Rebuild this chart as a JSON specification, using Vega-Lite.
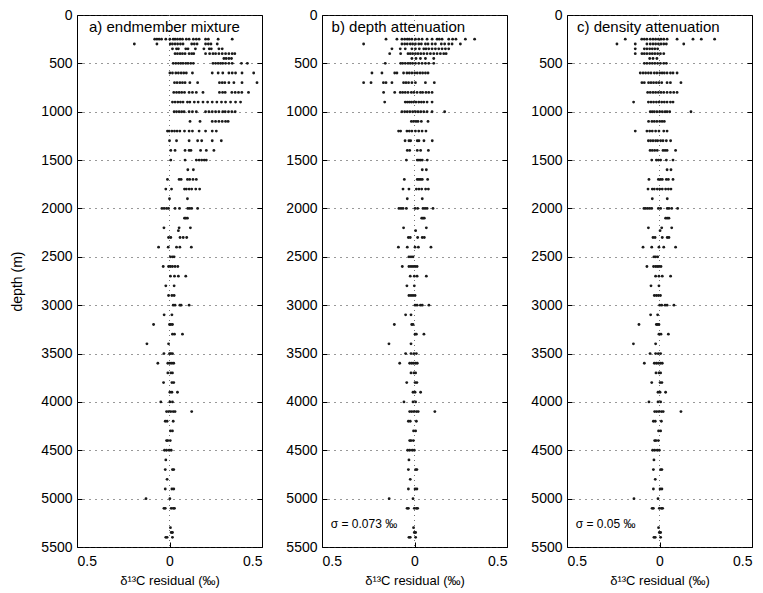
{
"$schema": "https://vega.github.io/schema/vega-lite/v6.json",
"padding": {"left": 10, "top": 7, "right": 5, "bottom": 5},
"bounds": "flush",
"spacing": 60,
"config": {
  "font": "Liberation Sans",
  "view": {"stroke": "#000", "strokeWidth": 1},
  "axis": {"labelFont": "Liberation Sans", "labelFontSize": 14, "labelColor": "#000", "titleFont": "Liberation Sans", "titleFontSize": 14, "titleFontWeight": "normal", "titleColor": "#000", "domain": false, "tickColor": "#000", "tickSize": -5}
},
"datasets": {
"a": [
{"d":250,"r":-0.08},{"d":250,"r":-0.068},{"d":250,"r":-0.056},{"d":250,"r":-0.043},{"d":250,"r":-0.02},{"d":250,"r":0.002},{"d":250,"r":0.02},{"d":250,"r":0.03},{"d":250,"r":0.043},{"d":250,"r":0.057},{"d":250,"r":0.07},{"d":250,"r":0.091},{"d":250,"r":0.106},{"d":250,"r":0.129},{"d":250,"r":0.145},{"d":250,"r":0.16},{"d":250,"r":0.195},{"d":250,"r":0.21},{"d":250,"r":0.263},{"d":250,"r":0.339},
{"d":300,"r":-0.19},{"d":300,"r":-0.068},{"d":300,"r":0.004},{"d":300,"r":0.016},{"d":300,"r":0.03},{"d":300,"r":0.044},{"d":300,"r":0.059},{"d":300,"r":0.073},{"d":300,"r":0.12},{"d":300,"r":0.134},{"d":300,"r":0.149},{"d":300,"r":0.195},{"d":300,"r":0.21},{"d":300,"r":0.224},{"d":300,"r":0.258},
{"d":350,"r":0.016},{"d":350,"r":0.038},{"d":350,"r":0.048},{"d":350,"r":0.088},{"d":350,"r":0.1},{"d":350,"r":0.14},{"d":350,"r":0.186},{"d":350,"r":0.215},{"d":350,"r":0.226},{"d":350,"r":0.267},{"d":350,"r":0.285},
{"d":400,"r":0.03},{"d":400,"r":0.043},{"d":400,"r":0.057},{"d":400,"r":0.07},{"d":400,"r":0.084},{"d":400,"r":0.106},{"d":400,"r":0.12},{"d":400,"r":0.131},{"d":400,"r":0.195},{"d":400,"r":0.217},{"d":400,"r":0.235},{"d":400,"r":0.249},{"d":400,"r":0.267},{"d":400,"r":0.285},{"d":400,"r":0.303},{"d":400,"r":0.321},{"d":400,"r":0.339},{"d":400,"r":0.353},
{"d":450,"r":0.294},{"d":450,"r":0.306},{"d":450,"r":0.321},{"d":450,"r":0.335},
{"d":500,"r":0.02},{"d":500,"r":0.034},{"d":500,"r":0.048},{"d":500,"r":0.061},{"d":500,"r":0.073},{"d":500,"r":0.088},{"d":500,"r":0.1},{"d":500,"r":0.115},{"d":500,"r":0.129},{"d":500,"r":0.235},{"d":500,"r":0.249},{"d":500,"r":0.263},{"d":500,"r":0.276},{"d":500,"r":0.288},{"d":500,"r":0.303},{"d":500,"r":0.321},{"d":500,"r":0.339},{"d":500,"r":0.389},{"d":500,"r":0.421},
{"d":600,"r":0.002},{"d":600,"r":0.016},{"d":600,"r":0.034},{"d":600,"r":0.048},{"d":600,"r":0.063},{"d":600,"r":0.077},{"d":600,"r":0.091},{"d":600,"r":0.124},{"d":600,"r":0.231},{"d":600,"r":0.263},{"d":600,"r":0.288},{"d":600,"r":0.321},{"d":600,"r":0.339},{"d":600,"r":0.357},{"d":600,"r":0.392},{"d":600,"r":0.455},
{"d":700,"r":0.027},{"d":700,"r":0.041},{"d":700,"r":0.056},{"d":700,"r":0.07},{"d":700,"r":0.084},{"d":700,"r":0.11},{"d":700,"r":0.152},{"d":700,"r":0.27},{"d":700,"r":0.285},{"d":700,"r":0.299},{"d":700,"r":0.321},{"d":700,"r":0.348},{"d":700,"r":0.392},{"d":700,"r":0.473},
{"d":800,"r":0.023},{"d":800,"r":0.038},{"d":800,"r":0.052},{"d":800,"r":0.066},{"d":800,"r":0.081},{"d":800,"r":0.106},{"d":800,"r":0.124},{"d":800,"r":0.145},{"d":800,"r":0.181},{"d":800,"r":0.27},{"d":800,"r":0.287},{"d":800,"r":0.301},{"d":800,"r":0.337},{"d":800,"r":0.355},{"d":800,"r":0.373},{"d":800,"r":0.391},{"d":800,"r":0.427},
{"d":900,"r":0.016},{"d":900,"r":0.03},{"d":900,"r":0.045},{"d":900,"r":0.059},{"d":900,"r":0.073},{"d":900,"r":0.097},{"d":900,"r":0.11},{"d":900,"r":0.134},{"d":900,"r":0.155},{"d":900,"r":0.181},{"d":900,"r":0.206},{"d":900,"r":0.231},{"d":900,"r":0.256},{"d":900,"r":0.281},{"d":900,"r":0.303},{"d":900,"r":0.33},{"d":900,"r":0.357},{"d":900,"r":0.384},
{"d":1000,"r":0.025},{"d":1000,"r":0.038},{"d":1000,"r":0.052},{"d":1000,"r":0.066},{"d":1000,"r":0.079},{"d":1000,"r":0.106},{"d":1000,"r":0.124},{"d":1000,"r":0.145},{"d":1000,"r":0.195},{"d":1000,"r":0.213},{"d":1000,"r":0.231},{"d":1000,"r":0.249},{"d":1000,"r":0.267},{"d":1000,"r":0.288},{"d":1000,"r":0.301},{"d":1000,"r":0.319},{"d":1000,"r":0.337},{"d":1000,"r":0.355},
{"d":1100,"r":0.111},{"d":1100,"r":0.165},{"d":1100,"r":0.231},{"d":1100,"r":0.249},{"d":1100,"r":0.267},{"d":1100,"r":0.285},{"d":1100,"r":0.303},{"d":1100,"r":0.317},
{"d":1200,"r":-0.011},{"d":1200,"r":-0.002},{"d":1200,"r":0.013},{"d":1200,"r":0.027},{"d":1200,"r":0.041},{"d":1200,"r":0.056},{"d":1200,"r":0.081},{"d":1200,"r":0.106},{"d":1200,"r":0.124},{"d":1200,"r":0.16},{"d":1200,"r":0.195},{"d":1200,"r":0.231},{"d":1200,"r":0.253},
{"d":1300,"r":0},{"d":1300,"r":0.038},{"d":1300,"r":0.106},{"d":1300,"r":0.152},{"d":1300,"r":0.174},{"d":1300,"r":0.231},{"d":1300,"r":0.28},
{"d":1400,"r":0.007},{"d":1400,"r":0.03},{"d":1400,"r":0.084},{"d":1400,"r":0.106},{"d":1400,"r":0.116},{"d":1400,"r":0.168},{"d":1400,"r":0.199},{"d":1400,"r":0.24},
{"d":1500,"r":0.007},{"d":1500,"r":0.084},{"d":1500,"r":0.145},{"d":1500,"r":0.16},{"d":1500,"r":0.174},{"d":1500,"r":0.188},{"d":1500,"r":0.199},
{"d":1600,"r":0.099},{"d":1600,"r":0.129},
{"d":1700,"r":-0.011},{"d":1700,"r":0.052},{"d":1700,"r":0.063},{"d":1700,"r":0.097},{"d":1700,"r":0.109},{"d":1700,"r":0.127},{"d":1700,"r":0.145},
{"d":1800,"r":-0.02},{"d":1800,"r":0.011},{"d":1800,"r":0.081},{"d":1800,"r":0.091},{"d":1800,"r":0.106},{"d":1800,"r":0.12},{"d":1800,"r":0.142},{"d":1800,"r":0.163},
{"d":1900,"r":0},{"d":1900,"r":0.097},
{"d":2000,"r":-0.041},{"d":2000,"r":-0.029},{"d":2000,"r":-0.016},{"d":2000,"r":-0.005},{"d":2000,"r":0.03},{"d":2000,"r":0.054},{"d":2000,"r":0.099},{"d":2000,"r":0.109},{"d":2000,"r":0.12},{"d":2000,"r":0.152},
{"d":2100,"r":0.081},{"d":2100,"r":0.088},{"d":2100,"r":0.097},
{"d":2200,"r":-0.03},{"d":2200,"r":0.052},{"d":2230,"r":0.048},{"d":2200,"r":0.113},
{"d":2300,"r":-0.005},{"d":2300,"r":0.007},{"d":2300,"r":0.057},{"d":2300,"r":0.074},{"d":2300,"r":0.093},
{"d":2400,"r":-0.059},{"d":2400,"r":-0.007},{"d":2400,"r":0.038},{"d":2400,"r":0.056},{"d":2400,"r":0.118},
{"d":2500,"r":0.005},{"d":2500,"r":0.016},{"d":2500,"r":0.025},
{"d":2600,"r":-0.034},{"d":2600,"r":-0.005},{"d":2600,"r":0.005},{"d":2600,"r":0.016},{"d":2600,"r":0.03},{"d":2600,"r":0.045},
{"d":2700,"r":0.005},{"d":2700,"r":0.027},{"d":2700,"r":0.048},{"d":2700,"r":0.088},
{"d":2800,"r":-0.02},{"d":2800,"r":0.025},
{"d":2900,"r":-0.005},{"d":2900,"r":0.013},{"d":2900,"r":0.025},
{"d":3000,"r":0.02},{"d":3000,"r":0.03},{"d":3000,"r":0.056},{"d":3000,"r":0.063},{"d":3000,"r":0.106},
{"d":3100,"r":-0.029},{"d":3100,"r":0.013},
{"d":3200,"r":-0.086},{"d":3200,"r":0},{"d":3200,"r":0.007},{"d":3200,"r":0.016},
{"d":3300,"r":0.016},{"d":3300,"r":0.027},{"d":3300,"r":0.07},
{"d":3400,"r":-0.122},{"d":3400,"r":-0.005},
{"d":3500,"r":-0.03},{"d":3500,"r":0},{"d":3500,"r":0.007},{"d":3500,"r":0.016},
{"d":3600,"r":-0.063},{"d":3600,"r":-0.009},{"d":3600,"r":0.002},{"d":3600,"r":0.013},{"d":3600,"r":0.023},
{"d":3700,"r":-0.009},{"d":3700,"r":0.007},{"d":3700,"r":0.016},
{"d":3800,"r":-0.032},{"d":3800,"r":0.013},{"d":3800,"r":0.023},
{"d":3900,"r":0.002},{"d":3900,"r":0.013},{"d":3900,"r":0.043},
{"d":4000,"r":-0.047},{"d":4000,"r":0.002},{"d":4000,"r":0.016},
{"d":4100,"r":-0.016},{"d":4100,"r":-0.005},{"d":4100,"r":0.007},{"d":4100,"r":0.02},{"d":4100,"r":0.03},{"d":4100,"r":0.12},
{"d":4200,"r":-0.023},{"d":4200,"r":-0.013},{"d":4200,"r":0.02},
{"d":4300,"r":0.005},{"d":4300,"r":0.016},
{"d":4400,"r":-0.016},{"d":4400,"r":-0.009},{"d":4400,"r":0.004},
{"d":4500,"r":-0.027},{"d":4500,"r":-0.016},{"d":4500,"r":-0.002},{"d":4500,"r":0.009},
{"d":4600,"r":-0.02},
{"d":4700,"r":-0.023},{"d":4700,"r":0.016},{"d":4700,"r":0.023},
{"d":4800,"r":-0.013},
{"d":4900,"r":-0.023},{"d":4900,"r":0.013},{"d":4900,"r":0.023},
{"d":5000,"r":-0.127},{"d":5000,"r":0.002},
{"d":5100,"r":-0.03},{"d":5100,"r":-0.023},{"d":5100,"r":0.009},{"d":5100,"r":0.02},{"d":5100,"r":0.027},
{"d":5300,"r":0.005},
{"d":5350,"r":0.009},{"d":5350,"r":0.016},
{"d":5400,"r":-0.02},{"d":5400,"r":-0.013},{"d":5400,"r":0.016}
],
"b": [
{"d":250,"r":-0.154},{"d":250,"r":-0.095},{"d":250,"r":-0.068},{"d":250,"r":-0.053},{"d":250,"r":-0.039},{"d":250,"r":-0.028},{"d":250,"r":-0.014},{"d":250,"r":0.005},{"d":250,"r":0.023},{"d":250,"r":0.041},{"d":250,"r":0.068},{"d":250,"r":0.095},{"d":250,"r":0.122},{"d":250,"r":0.134},{"d":250,"r":0.149},{"d":250,"r":0.185},{"d":250,"r":0.206},{"d":250,"r":0.224},{"d":250,"r":0.275},{"d":250,"r":0.325},
{"d":300,"r":-0.275},{"d":300,"r":-0.068},{"d":300,"r":-0.053},{"d":300,"r":-0.039},{"d":300,"r":-0.023},{"d":300,"r":-0.01},{"d":300,"r":0.005},{"d":300,"r":0.023},{"d":300,"r":0.037},{"d":300,"r":0.059},{"d":300,"r":0.073},{"d":300,"r":0.095},{"d":300,"r":0.113},{"d":300,"r":0.145},{"d":300,"r":0.163},{"d":300,"r":0.185},{"d":300,"r":0.203},{"d":300,"r":0.248},
{"d":350,"r":-0.122},{"d":350,"r":-0.077},{"d":350,"r":-0.05},{"d":350,"r":-0.014},{"d":350,"r":0.005},{"d":350,"r":0.026},{"d":350,"r":0.05},{"d":350,"r":0.062},{"d":350,"r":0.077},{"d":350,"r":0.095},{"d":350,"r":0.113},{"d":350,"r":0.131},{"d":350,"r":0.149},{"d":350,"r":0.167},{"d":350,"r":0.185},
{"d":400,"r":-0.134},{"d":400,"r":-0.075},{"d":400,"r":-0.035},{"d":400,"r":-0.023},{"d":400,"r":-0.01},{"d":400,"r":0.005},{"d":400,"r":0.019},{"d":400,"r":0.034},{"d":400,"r":0.05},{"d":400,"r":0.068},{"d":400,"r":0.086},{"d":400,"r":0.104},{"d":400,"r":0.122},{"d":400,"r":0.14},{"d":400,"r":0.158},{"d":400,"r":0.171},
{"d":450,"r":-0.014},{"d":450,"r":0.008},{"d":450,"r":0.032},{"d":450,"r":0.059},{"d":450,"r":0.104},
{"d":500,"r":-0.158},{"d":500,"r":-0.075},{"d":500,"r":-0.064},{"d":500,"r":-0.05},{"d":500,"r":-0.035},{"d":500,"r":-0.023},{"d":500,"r":-0.01},{"d":500,"r":0.005},{"d":500,"r":0.023},{"d":500,"r":0.041},{"d":500,"r":0.059},{"d":500,"r":0.077},{"d":500,"r":0.104},
{"d":600,"r":-0.23},{"d":600,"r":-0.176},{"d":600,"r":-0.107},{"d":600,"r":-0.095},{"d":600,"r":-0.059},{"d":600,"r":-0.041},{"d":600,"r":-0.028},{"d":600,"r":-0.014},{"d":600,"r":0.001},{"d":600,"r":0.015},{"d":600,"r":0.03},{"d":600,"r":0.044},{"d":600,"r":0.059},{"d":600,"r":0.073},
{"d":700,"r":-0.275},{"d":700,"r":-0.235},{"d":700,"r":-0.168},{"d":700,"r":-0.154},{"d":700,"r":-0.122},{"d":700,"r":-0.059},{"d":700,"r":-0.046},{"d":700,"r":-0.032},{"d":700,"r":-0.014},{"d":700,"r":0.005},{"d":700,"r":0.059},{"d":700,"r":0.107},
{"d":800,"r":-0.167},{"d":800,"r":-0.107},{"d":800,"r":-0.077},{"d":800,"r":-0.064},{"d":800,"r":-0.05},{"d":800,"r":-0.035},{"d":800,"r":-0.017},{"d":800,"r":-0.003},{"d":800,"r":0.014},{"d":800,"r":0.032},{"d":800,"r":0.044},{"d":800,"r":0.062},{"d":800,"r":0.077},{"d":800,"r":0.095},
{"d":900,"r":-0.161},{"d":900,"r":-0.05},{"d":900,"r":-0.039},{"d":900,"r":-0.028},{"d":900,"r":-0.017},{"d":900,"r":-0.005},{"d":900,"r":0.008},{"d":900,"r":0.023},{"d":900,"r":0.037},{"d":900,"r":0.05},{"d":900,"r":0.068},{"d":900,"r":0.095},
{"d":1000,"r":-0.068},{"d":1000,"r":-0.053},{"d":1000,"r":-0.039},{"d":1000,"r":-0.025},{"d":1000,"r":-0.01},{"d":1000,"r":0.005},{"d":1000,"r":0.019},{"d":1000,"r":0.034},{"d":1000,"r":0.05},{"d":1000,"r":0.068},{"d":1000,"r":0.095},{"d":1000,"r":0.163},
{"d":1100,"r":-0.017},{"d":1100,"r":-0.005},{"d":1100,"r":0.008},{"d":1100,"r":0.019},{"d":1100,"r":0.037},{"d":1100,"r":0.073},
{"d":1200,"r":-0.086},{"d":1200,"r":-0.075},{"d":1200,"r":-0.041},{"d":1200,"r":-0.028},{"d":1200,"r":-0.014},{"d":1200,"r":0.005},{"d":1200,"r":0.023},{"d":1200,"r":0.041},{"d":1200,"r":0.062},
{"d":1300,"r":-0.051},{"d":1300,"r":-0.03},{"d":1300,"r":-0.021},{"d":1300,"r":0.015},{"d":1300,"r":0.024},{"d":1300,"r":0.051},{"d":1300,"r":0.096},
{"d":1400,"r":-0.039},{"d":1400,"r":-0.026},{"d":1400,"r":0.015},{"d":1400,"r":0.033},{"d":1400,"r":0.075},
{"d":1500,"r":-0.044},{"d":1500,"r":0.015},{"d":1500,"r":0.024},{"d":1500,"r":0.033},{"d":1500,"r":0.042},{"d":1500,"r":0.069},
{"d":1600,"r":0.042},{"d":1600,"r":0.064},
{"d":1700,"r":-0.055},{"d":1700,"r":0.015},{"d":1700,"r":0.024},{"d":1700,"r":0.033},{"d":1700,"r":0.042},{"d":1700,"r":0.071},
{"d":1800,"r":-0.062},{"d":1800,"r":-0.03},{"d":1800,"r":0.01},{"d":1800,"r":0.024},{"d":1800,"r":0.039},{"d":1800,"r":0.06},{"d":1800,"r":0.075},
{"d":1900,"r":-0.039},{"d":1900,"r":0.042},
{"d":2000,"r":-0.084},{"d":2000,"r":-0.073},{"d":2000,"r":-0.062},{"d":2000,"r":-0.044},{"d":2000,"r":0.003},{"d":2000,"r":0.017},{"d":2000,"r":0.046},{"d":2000,"r":0.057},{"d":2000,"r":0.068},{"d":2000,"r":0.1},
{"d":2100,"r":0.039},{"d":2100,"r":0.046},{"d":2100,"r":0.053},
{"d":2200,"r":-0.059},{"d":2230,"r":0.006},{"d":2200,"r":0.064},
{"d":2300,"r":-0.033},{"d":2300,"r":-0.023},{"d":2300,"r":0.017},{"d":2300,"r":0.042},{"d":2300,"r":0.053},
{"d":2400,"r":-0.087},{"d":2400,"r":-0.039},{"d":2400,"r":0.003},{"d":2400,"r":0.021},{"d":2400,"r":0.089},
{"d":2500,"r":-0.03},{"d":2500,"r":-0.019},{"d":2500,"r":-0.008},
{"d":2600,"r":-0.066},{"d":2600,"r":-0.03},{"d":2600,"r":-0.019},{"d":2600,"r":-0.008},{"d":2600,"r":0.003},{"d":2600,"r":0.014},
{"d":2700,"r":-0.023},{"d":2700,"r":-0.001},{"d":2700,"r":0.014},{"d":2700,"r":0.064},
{"d":2800,"r":-0.041},{"d":2800,"r":-0.001},
{"d":2900,"r":-0.03},{"d":2900,"r":-0.019},{"d":2900,"r":-0.008},{"d":2900,"r":0.003},
{"d":3000,"r":0.003},{"d":3000,"r":0.014},{"d":3000,"r":0.032},{"d":3000,"r":0.042},{"d":3000,"r":0.078},
{"d":3100,"r":-0.048},{"d":3100,"r":-0.019},
{"d":3200,"r":-0.109},{"d":3200,"r":-0.015},{"d":3200,"r":-0.008},
{"d":3300,"r":0.003},{"d":3300,"r":0.01},{"d":3300,"r":0.051},
{"d":3400,"r":-0.138},{"d":3400,"r":-0.019},
{"d":3500,"r":-0.048},{"d":3500,"r":-0.019},{"d":3500,"r":-0.003},{"d":3500,"r":0.01},
{"d":3600,"r":-0.08},{"d":3600,"r":-0.026},{"d":3600,"r":-0.015},{"d":3600,"r":-0.005},{"d":3600,"r":0.006},{"d":3600,"r":0.015},
{"d":3700,"r":-0.019},{"d":3700,"r":-0.003},{"d":3700,"r":0.006},
{"d":3800,"r":-0.042},{"d":3800,"r":0.003},{"d":3800,"r":0.013},
{"d":3900,"r":-0.008},{"d":3900,"r":0.003},{"d":3900,"r":0.033},
{"d":4000,"r":-0.057},{"d":4000,"r":-0.008},{"d":4000,"r":0.006},
{"d":4100,"r":-0.026},{"d":4100,"r":-0.015},{"d":4100,"r":-0.003},{"d":4100,"r":0.01},{"d":4100,"r":0.02},{"d":4100,"r":0.11},
{"d":4200,"r":-0.033},{"d":4200,"r":-0.023},{"d":4200,"r":0.01},
{"d":4300,"r":-0.005},{"d":4300,"r":0.006},
{"d":4400,"r":-0.026},{"d":4400,"r":-0.019},{"d":4400,"r":-0.006},
{"d":4500,"r":-0.037},{"d":4500,"r":-0.026},{"d":4500,"r":-0.012},{"d":4500,"r":-0.001},
{"d":4600,"r":-0.03},
{"d":4700,"r":-0.033},{"d":4700,"r":0.006},{"d":4700,"r":0.013},
{"d":4800,"r":-0.023},
{"d":4900,"r":-0.033},{"d":4900,"r":0.003},{"d":4900,"r":0.013},
{"d":5000,"r":-0.137},{"d":5000,"r":-0.008},
{"d":5100,"r":-0.04},{"d":5100,"r":-0.033},{"d":5100,"r":-0.001},{"d":5100,"r":0.01},{"d":5100,"r":0.017},
{"d":5300,"r":-0.005},
{"d":5350,"r":-0.001},{"d":5350,"r":0.006},
{"d":5400,"r":-0.03},{"d":5400,"r":-0.023},{"d":5400,"r":0.006}
],
"c": [
{"d":250,"r":-0.185},{"d":250,"r":-0.096},{"d":250,"r":-0.082},{"d":250,"r":-0.068},{"d":250,"r":-0.05},{"d":250,"r":-0.035},{"d":250,"r":-0.021},{"d":250,"r":-0.006},{"d":250,"r":0.008},{"d":250,"r":0.023},{"d":250,"r":0.041},{"d":250,"r":0.095},{"d":250,"r":0.181},{"d":250,"r":0.226},{"d":250,"r":0.298},
{"d":300,"r":-0.23},{"d":300,"r":-0.131},{"d":300,"r":-0.068},{"d":300,"r":-0.05},{"d":300,"r":-0.035},{"d":300,"r":-0.021},{"d":300,"r":-0.006},{"d":300,"r":0.008},{"d":300,"r":0.023},{"d":300,"r":0.037},{"d":300,"r":0.131},
{"d":350,"r":-0.131},{"d":350,"r":-0.082},{"d":350,"r":-0.068},{"d":350,"r":-0.053},{"d":350,"r":-0.039},{"d":350,"r":-0.025},{"d":350,"r":-0.01},
{"d":400,"r":-0.131},{"d":400,"r":-0.095},{"d":400,"r":-0.082},{"d":400,"r":-0.068},{"d":400,"r":-0.053},{"d":400,"r":-0.039},{"d":400,"r":-0.025},{"d":400,"r":-0.01},{"d":400,"r":0.005},{"d":400,"r":0.023},
{"d":450,"r":-0.053},{"d":450,"r":-0.035},{"d":450,"r":-0.014},
{"d":500,"r":-0.082},{"d":500,"r":-0.068},{"d":500,"r":-0.053},{"d":500,"r":-0.039},{"d":500,"r":-0.025},{"d":500,"r":-0.01},{"d":500,"r":0.005},{"d":500,"r":0.023},{"d":500,"r":0.037},
{"d":600,"r":-0.104},{"d":600,"r":-0.089},{"d":600,"r":-0.075},{"d":600,"r":-0.06},{"d":600,"r":-0.046},{"d":600,"r":-0.028},{"d":600,"r":-0.014},{"d":600,"r":0.001},{"d":600,"r":0.014},{"d":600,"r":0.026},{"d":600,"r":0.041},{"d":600,"r":0.059},{"d":600,"r":0.073},{"d":600,"r":0.095},
{"d":700,"r":-0.095},{"d":700,"r":-0.082},{"d":700,"r":-0.059},{"d":700,"r":-0.046},{"d":700,"r":-0.032},{"d":700,"r":-0.017},{"d":700,"r":-0.003},{"d":700,"r":0.012},{"d":700,"r":0.041},{"d":700,"r":0.059},{"d":700,"r":0.116},
{"d":800,"r":-0.064},{"d":800,"r":-0.05},{"d":800,"r":-0.035},{"d":800,"r":-0.021},{"d":800,"r":-0.006},{"d":800,"r":0.008},{"d":800,"r":0.023},{"d":800,"r":0.041},{"d":800,"r":0.059},{"d":800,"r":0.077},{"d":800,"r":0.095},
{"d":900,"r":-0.14},{"d":900,"r":-0.06},{"d":900,"r":-0.046},{"d":900,"r":-0.032},{"d":900,"r":-0.017},{"d":900,"r":-0.003},{"d":900,"r":0.012},{"d":900,"r":0.026},{"d":900,"r":0.041},{"d":900,"r":0.059},{"d":900,"r":0.073},
{"d":1000,"r":-0.05},{"d":1000,"r":-0.039},{"d":1000,"r":-0.028},{"d":1000,"r":-0.014},{"d":1000,"r":0.001},{"d":1000,"r":0.015},{"d":1000,"r":0.03},{"d":1000,"r":0.041},{"d":1000,"r":0.055},{"d":1000,"r":0.17},
{"d":1100,"r":-0.059},{"d":1100,"r":-0.041},{"d":1100,"r":-0.028},{"d":1100,"r":-0.014},{"d":1100,"r":0.001},{"d":1100,"r":0.014},{"d":1100,"r":0.026},
{"d":1200,"r":-0.131},{"d":1200,"r":-0.068},{"d":1200,"r":-0.053},{"d":1200,"r":-0.039},{"d":1200,"r":-0.021},{"d":1200,"r":-0.003},{"d":1200,"r":0.023},{"d":1200,"r":0.041},
{"d":1300,"r":-0.06},{"d":1300,"r":-0.048},{"d":1300,"r":-0.035},{"d":1300,"r":-0.021},{"d":1300,"r":-0.01},{"d":1300,"r":0.006},{"d":1300,"r":0.019},{"d":1300,"r":0.037},{"d":1300,"r":0.06},
{"d":1400,"r":-0.051},{"d":1400,"r":-0.039},{"d":1400,"r":-0.026},{"d":1400,"r":-0.012},{"d":1400,"r":0.019},{"d":1400,"r":0.03},{"d":1400,"r":0.041},{"d":1400,"r":0.087},
{"d":1500,"r":-0.042},{"d":1500,"r":-0.017},{"d":1500,"r":-0.006},{"d":1500,"r":0.006},{"d":1500,"r":0.037},{"d":1500,"r":0.073},
{"d":1600,"r":0.041},{"d":1600,"r":0.062},
{"d":1700,"r":-0.057},{"d":1700,"r":-0.006},{"d":1700,"r":0.005},{"d":1700,"r":0.015},{"d":1700,"r":0.037},{"d":1700,"r":0.048},{"d":1700,"r":0.073},
{"d":1800,"r":-0.062},{"d":1800,"r":-0.039},{"d":1800,"r":-0.028},{"d":1800,"r":-0.012},{"d":1800,"r":0.001},{"d":1800,"r":0.015},{"d":1800,"r":0.033},{"d":1800,"r":0.048},{"d":1800,"r":0.062},
{"d":1900,"r":-0.039},{"d":1900,"r":0.042},
{"d":2000,"r":-0.084},{"d":2000,"r":-0.075},{"d":2000,"r":-0.064},{"d":2000,"r":-0.053},{"d":2000,"r":-0.042},{"d":2000,"r":-0.006},{"d":2000,"r":0.006},{"d":2000,"r":0.042},{"d":2000,"r":0.051},{"d":2000,"r":0.066},{"d":2000,"r":0.098},
{"d":2100,"r":0.033},{"d":2100,"r":0.042},{"d":2100,"r":0.051},
{"d":2200,"r":-0.06},{"d":2200,"r":0.012},{"d":2230,"r":0.003},{"d":2200,"r":0.066},
{"d":2300,"r":-0.035},{"d":2300,"r":-0.024},{"d":2300,"r":0.015},{"d":2300,"r":0.042},{"d":2300,"r":0.051},
{"d":2400,"r":-0.089},{"d":2400,"r":-0.042},{"d":2400,"r":-0.003},{"d":2400,"r":0.023},{"d":2400,"r":0.087},
{"d":2500,"r":-0.03},{"d":2500,"r":-0.021},{"d":2500,"r":-0.01},
{"d":2600,"r":-0.068},{"d":2600,"r":-0.032},{"d":2600,"r":-0.021},{"d":2600,"r":-0.012},{"d":2600,"r":-0.003},{"d":2600,"r":0.008},
{"d":2700,"r":-0.021},{"d":2700,"r":-0.003},{"d":2700,"r":0.015},{"d":2700,"r":0.06},
{"d":2800,"r":-0.046},{"d":2800,"r":-0.003},
{"d":2900,"r":-0.028},{"d":2900,"r":-0.017},{"d":2900,"r":-0.006},{"d":2900,"r":0.005},
{"d":3000,"r":0.001},{"d":3000,"r":0.012},{"d":3000,"r":0.03},{"d":3000,"r":0.041},{"d":3000,"r":0.078},
{"d":3100,"r":-0.048},{"d":3100,"r":-0.01},
{"d":3200,"r":-0.111},{"d":3200,"r":-0.017},{"d":3200,"r":-0.01},{"d":3200,"r":-0.003},
{"d":3300,"r":-0.003},{"d":3300,"r":0.008},{"d":3300,"r":0.048},
{"d":3400,"r":-0.141},{"d":3400,"r":-0.021},
{"d":3500,"r":-0.051},{"d":3500,"r":-0.021},{"d":3500,"r":-0.006},{"d":3500,"r":0.006},
{"d":3600,"r":-0.082},{"d":3600,"r":-0.028},{"d":3600,"r":-0.017},{"d":3600,"r":-0.006},{"d":3600,"r":0.005},{"d":3600,"r":0.015},
{"d":3700,"r":-0.019},{"d":3700,"r":-0.003},{"d":3700,"r":0.006},
{"d":3800,"r":-0.042},{"d":3800,"r":0.003},{"d":3800,"r":0.013},
{"d":3900,"r":-0.008},{"d":3900,"r":0.003},{"d":3900,"r":0.033},
{"d":4000,"r":-0.057},{"d":4000,"r":-0.008},{"d":4000,"r":0.006},
{"d":4100,"r":-0.026},{"d":4100,"r":-0.015},{"d":4100,"r":-0.003},{"d":4100,"r":0.01},{"d":4100,"r":0.02},{"d":4100,"r":0.116},
{"d":4200,"r":-0.033},{"d":4200,"r":-0.023},{"d":4200,"r":0.01},
{"d":4300,"r":-0.005},{"d":4300,"r":0.006},
{"d":4400,"r":-0.026},{"d":4400,"r":-0.019},{"d":4400,"r":-0.006},
{"d":4500,"r":-0.037},{"d":4500,"r":-0.026},{"d":4500,"r":-0.012},{"d":4500,"r":-0.001},
{"d":4600,"r":-0.03},
{"d":4700,"r":-0.033},{"d":4700,"r":0.006},{"d":4700,"r":0.013},
{"d":4800,"r":-0.023},
{"d":4900,"r":-0.033},{"d":4900,"r":0.003},{"d":4900,"r":0.013},
{"d":5000,"r":-0.138},{"d":5000,"r":-0.008},
{"d":5100,"r":-0.04},{"d":5100,"r":-0.033},{"d":5100,"r":-0.001},{"d":5100,"r":0.01},{"d":5100,"r":0.017},
{"d":5300,"r":-0.005},
{"d":5350,"r":-0.001},{"d":5350,"r":0.006},
{"d":5400,"r":-0.03},{"d":5400,"r":-0.023},{"d":5400,"r":0.006}
]
},
"hconcat": [
{
 "width": 185, "height": 532,
 "resolve": {"axis": {"y": "independent"}},
 "layer": [
  {"data": {"values": [{}]}, "mark": {"type": "rule", "strokeDash": [1, 4], "color": "#777", "strokeWidth": 1}, "encoding": {"x": {"datum": 0, "type": "quantitative"}}},
  {"data": {"name": "a"}, "mark": {"type": "circle", "size": 8, "color": "#1a1a1a", "opacity": 1},
   "encoding": {
    "x": {"field": "r", "type": "quantitative", "scale": {"domain": [-0.5, 0.5], "nice": false, "zero": false},
      "axis": {"orient": "bottom", "values": [-0.5, 0, 0.5], "labelExpr": "datum.value == 0 ? '0' : format(abs(datum.value), '.1f')", "grid": false, "labelPadding": 12, "title": "δ¹³C residual (‰)", "titleFontSize": 13, "titlePadding": 6}},
    "y": {"field": "d", "type": "quantitative", "scale": {"domain": [0, 5500], "reverse": true, "nice": false},
      "axis": {"orient": "left", "values": [0,500,1000,1500,2000,2500,3000,3500,4000,4500,5000,5500], "format": "d", "grid": true, "gridDash": [1, 5], "gridColor": "#333", "labelPadding": 10, "title": "depth (m)", "titlePadding": 16}}
   }},
  {"data": {"values": [{}]}, "mark": {"type": "point", "opacity": 0},
   "encoding": {"y": {"datum": 0, "type": "quantitative", "axis": {"orient": "right", "values": [0,500,1000,1500,2000,2500,3000,3500,4000,4500,5000,5500], "labels": false, "grid": false, "title": null}}}},
  {"data": {"values": [{}]}, "mark": {"type": "text", "align": "left", "baseline": "middle", "fontSize": 15, "font": "Liberation Sans", "color": "#000"},
   "encoding": {"x": {"datum": -0.435, "type": "quantitative"}, "y": {"datum": 120, "type": "quantitative", "axis": null}, "text": {"value": "a) endmember mixture"}}}
 ]
},
{
 "width": 185, "height": 532,
 "resolve": {"axis": {"y": "independent"}},
 "layer": [
  {"data": {"values": [{}]}, "mark": {"type": "rule", "strokeDash": [1, 4], "color": "#777", "strokeWidth": 1}, "encoding": {"x": {"datum": 0, "type": "quantitative"}}},
  {"data": {"name": "b"}, "mark": {"type": "circle", "size": 8, "color": "#1a1a1a", "opacity": 1},
   "encoding": {
    "x": {"field": "r", "type": "quantitative", "scale": {"domain": [-0.5, 0.5], "nice": false, "zero": false},
      "axis": {"orient": "bottom", "values": [-0.5, 0, 0.5], "labelExpr": "datum.value == 0 ? '0' : format(abs(datum.value), '.1f')", "grid": false, "labelPadding": 12, "title": "δ¹³C residual (‰)", "titleFontSize": 13, "titlePadding": 6}},
    "y": {"field": "d", "type": "quantitative", "scale": {"domain": [0, 5500], "reverse": true, "nice": false},
      "axis": {"orient": "left", "values": [0,500,1000,1500,2000,2500,3000,3500,4000,4500,5000,5500], "format": "d", "grid": true, "gridDash": [1, 5], "gridColor": "#333", "labelPadding": 10, "title": null}}
   }},
  {"data": {"values": [{}]}, "mark": {"type": "point", "opacity": 0},
   "encoding": {"y": {"datum": 0, "type": "quantitative", "axis": {"orient": "right", "values": [0,500,1000,1500,2000,2500,3000,3500,4000,4500,5000,5500], "labels": false, "grid": false, "title": null}}}},
  {"data": {"values": [{}]}, "mark": {"type": "text", "align": "left", "baseline": "middle", "fontSize": 15, "font": "Liberation Sans", "color": "#000"},
   "encoding": {"x": {"datum": -0.448, "type": "quantitative"}, "y": {"datum": 120, "type": "quantitative", "axis": null}, "text": {"value": "b)  depth attenuation"}}},
  {"data": {"values": [{}]}, "mark": {"type": "text", "align": "left", "baseline": "middle", "fontSize": 12, "font": "Liberation Sans", "color": "#000"},
   "encoding": {"x": {"datum": -0.453, "type": "quantitative"}, "y": {"datum": 5267, "type": "quantitative", "axis": null}, "text": {"value": "σ = 0.073 ‰"}}}
 ]
},
{
 "width": 185, "height": 532,
 "resolve": {"axis": {"y": "independent"}},
 "layer": [
  {"data": {"values": [{}]}, "mark": {"type": "rule", "strokeDash": [1, 4], "color": "#777", "strokeWidth": 1}, "encoding": {"x": {"datum": 0, "type": "quantitative"}}},
  {"data": {"name": "c"}, "mark": {"type": "circle", "size": 8, "color": "#1a1a1a", "opacity": 1},
   "encoding": {
    "x": {"field": "r", "type": "quantitative", "scale": {"domain": [-0.5, 0.5], "nice": false, "zero": false},
      "axis": {"orient": "bottom", "values": [-0.5, 0, 0.5], "labelExpr": "datum.value == 0 ? '0' : format(abs(datum.value), '.1f')", "grid": false, "labelPadding": 12, "title": "δ¹³C residual (‰)", "titleFontSize": 13, "titlePadding": 6}},
    "y": {"field": "d", "type": "quantitative", "scale": {"domain": [0, 5500], "reverse": true, "nice": false},
      "axis": {"orient": "left", "values": [0,500,1000,1500,2000,2500,3000,3500,4000,4500,5000,5500], "format": "d", "grid": true, "gridDash": [1, 5], "gridColor": "#333", "labelPadding": 10, "title": null}}
   }},
  {"data": {"values": [{}]}, "mark": {"type": "point", "opacity": 0},
   "encoding": {"y": {"datum": 0, "type": "quantitative", "axis": {"orient": "right", "values": [0,500,1000,1500,2000,2500,3000,3500,4000,4500,5000,5500], "labels": false, "grid": false, "title": null}}}},
  {"data": {"values": [{}]}, "mark": {"type": "text", "align": "left", "baseline": "middle", "fontSize": 15, "font": "Liberation Sans", "color": "#000"},
   "encoding": {"x": {"datum": -0.446, "type": "quantitative"}, "y": {"datum": 120, "type": "quantitative", "axis": null}, "text": {"value": "c)  density attenuation"}}},
  {"data": {"values": [{}]}, "mark": {"type": "text", "align": "left", "baseline": "middle", "fontSize": 12, "font": "Liberation Sans", "color": "#000"},
   "encoding": {"x": {"datum": -0.453, "type": "quantitative"}, "y": {"datum": 5267, "type": "quantitative", "axis": null}, "text": {"value": "σ = 0.05 ‰"}}}
 ]
}
]
}
